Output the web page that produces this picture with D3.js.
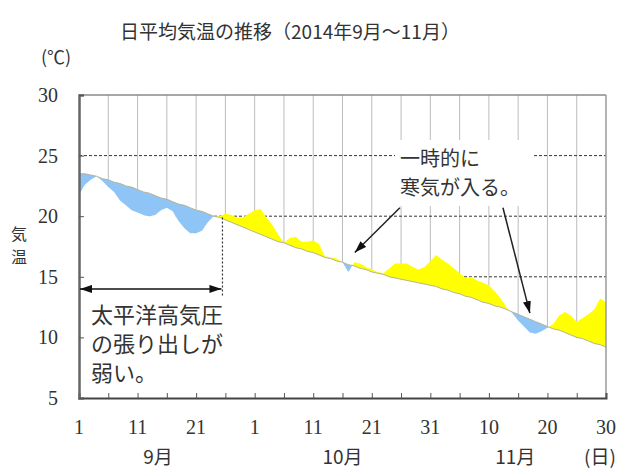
<!DOCTYPE html>
<html>
<head>
<meta charset="utf-8">
<script src="https://cdn.jsdelivr.net/npm/d3@7/dist/d3.min.js"></script>
<style>
  body { margin: 0; background: #fff; }
  text { font-family: "Noto Sans CJK JP", "Noto Sans", sans-serif; fill: #333; }
  .num { font-family: "Liberation Serif", "DejaVu Serif", serif; fill: #333; }
</style>
</head>
<body>
<div id="chart"></div>
<script>
// daily mean temperature, Sep 1 .. Nov 30 2014 (index 0 = Sep 1)
const actual = [
  21.8, 22.6, 23.0, 23.3, 22.9, 22.4, 22.0, 21.3, 20.9, 20.5,
  20.3, 20.1, 20.0, 20.1, 20.5, 20.7, 20.4, 19.6, 19.0, 18.6,
  18.6, 18.8, 19.5, 20.0, 20.0, 20.2, 20.1, 19.9, 19.9, 20.2,
  20.5, 20.6, 19.9, 19.3, 18.5, 17.8, 18.2, 18.3, 17.9, 17.9,
  18.0, 17.7, 16.7, 16.6, 16.5, 16.2, 15.4, 16.2, 16.1, 15.8,
  15.6, 15.4, 15.3, 15.7, 16.1, 16.1, 16.1, 15.8, 15.6, 15.8,
  16.3, 16.8, 16.4, 16.1, 15.7, 15.3, 14.9, 15.0, 14.7, 14.5,
  14.3, 13.8, 13.2, 12.5, 12.0, 11.4, 10.9, 10.4, 10.3, 10.5,
  10.8, 11.1, 11.8, 12.1, 11.8, 11.3, 11.6, 11.9, 12.3, 13.2, 12.9
]
// climatological normal
const normal = [
  23.5, 23.5, 23.4, 23.3, 23.1, 23.0, 22.8, 22.7, 22.5, 22.4,
  22.2, 22.0, 21.9, 21.7, 21.5, 21.4, 21.2, 21.0, 20.9, 20.7,
  20.5, 20.4, 20.2, 20.0, 19.9, 19.7, 19.5, 19.3, 19.1, 18.9,
  18.7, 18.5, 18.3, 18.1, 17.9, 17.8, 17.6, 17.4, 17.3, 17.1,
  17.0, 16.8, 16.6, 16.5, 16.3, 16.2, 16.0, 15.9, 15.7, 15.6,
  15.4, 15.3, 15.2, 15.0, 14.9, 14.8, 14.7, 14.6, 14.5, 14.4,
  14.3, 14.2, 14.0, 13.9, 13.7, 13.6, 13.4, 13.3, 13.1, 12.9,
  12.8, 12.6, 12.5, 12.3, 12.1, 11.9, 11.7, 11.5, 11.3, 11.1,
  10.9, 10.7, 10.6, 10.4, 10.2, 10.0, 9.9, 9.7, 9.5, 9.4, 9.2
]
const xTickDays = [0, 10, 20, 30, 40, 50, 60, 70, 80, 90]
const xTickLabels = ['1', '11', '21', '1', '11', '21', '31', '10', '20', '30']
const months = ['9月', '10月', '11月']
const monthCenters = [13.5, 45, 74.5]
const yTicks = [5, 10, 15, 20, 25, 30]
const yGridLines = [10, 15, 20, 25]

const width = 622
const height = 471
const margin = {left: 79, right: 16, top: 95, bottom: 73}

const svg = d3.select('#chart').append('svg')
  .attr('width', width)
  .attr('height', height)

const x = d3.scaleLinear().domain([0, 90]).range([margin.left, width - margin.right])
const y = d3.scaleLinear().domain([5, 30]).range([height - margin.bottom, margin.top])

// series joined, with the crossing points added so the two colours split cleanly
const data = actual.map((a, i) => ({i: i, a: a, n: normal[i]}))
const pts = []
data.forEach((d, k) => {
  pts.push(d)
  const e = data[k + 1]
  if (!e) return
  const d0 = d.a - d.n
  const d1 = e.a - e.n
  if (d0 * d1 < 0) {
    const t = d0 / (d0 - d1)
    const v = d.n + t * (e.n - d.n)
    pts.push({i: d.i + t, a: v, n: v})
  }
})

// vertical grid every 5 days
svg.append('g').selectAll('line')
  .data(d3.range(5, 90, 5))
  .join('line')
  .attr('x1', d => x(d)).attr('x2', d => x(d))
  .attr('y1', y(30)).attr('y2', y(5))
  .attr('stroke', '#bdbdbd').attr('stroke-width', 1)

svg.append('g').selectAll('line')
  .data(yGridLines)
  .join('line')
  .attr('x1', x(0)).attr('x2', x(90))
  .attr('y1', d => y(d)).attr('y2', d => y(d))
  .attr('stroke', '#333').attr('stroke-width', 1)
  .attr('stroke-dasharray', '3,2')

// white under the curves hides the grid
svg.append('path')
  .datum(pts)
  .attr('fill', '#fff')
  .attr('d', d3.area().x(d => x(d.i)).y0(y(5)).y1(d => y(Math.min(d.a, d.n))))

svg.append('path')
  .datum(pts)
  .attr('fill', '#ffff00')
  .attr('d', d3.area().x(d => x(d.i)).y0(d => y(d.n)).y1(d => y(Math.max(d.a, d.n))))

svg.append('path')
  .datum(pts)
  .attr('fill', '#8ec4f6')
  .attr('d', d3.area().x(d => x(d.i)).y0(d => y(d.n)).y1(d => y(Math.min(d.a, d.n))))

svg.append('path')
  .datum(data)
  .attr('fill', 'none')
  .attr('stroke', '#b4b49a')
  .attr('stroke-width', 1)
  .attr('d', d3.line().x(d => x(d.i)).y(d => y(d.n)))

// frame
svg.append('line').attr('x1', x(0)).attr('x2', x(90)).attr('y1', y(30)).attr('y2', y(30))
  .attr('stroke', '#8a8a8a').attr('stroke-width', 1.5)
svg.append('line').attr('x1', x(90)).attr('x2', x(90)).attr('y1', y(30)).attr('y2', y(5))
  .attr('stroke', '#9a9a9a').attr('stroke-width', 1.5)

const xAxis = d3.axisBottom(x).tickValues(d3.range(0, 91, 5)).tickSize(-5).tickFormat('')
svg.append('g')
  .attr('transform', 'translate(0,' + y(5) + ')')
  .call(xAxis)
  .call(g => g.select('.domain').attr('stroke', '#444').attr('stroke-width', 2))
  .call(g => g.selectAll('.tick line').attr('stroke', '#555'))

const yAxis = d3.axisLeft(y).tickValues(yTicks).tickSize(-5).tickFormat('')
svg.append('g')
  .attr('transform', 'translate(' + x(0) + ',0)')
  .call(yAxis)
  .call(g => g.select('.domain').attr('stroke', '#666').attr('stroke-width', 2.5))
  .call(g => g.selectAll('.tick line').attr('stroke', '#555'))

svg.append('g').selectAll('text')
  .data(yTicks)
  .join('text')
  .attr('class', 'num')
  .attr('x', 58)
  .attr('y', d => y(d))
  .attr('dy', '0.35em')
  .attr('text-anchor', 'end')
  .style('font-size', '20px')
  .text(d => d)

svg.append('g').selectAll('text')
  .data(xTickDays)
  .join('text')
  .attr('class', 'num')
  .attr('x', d => x(d))
  .attr('y', 427)
  .attr('dy', '0.35em')
  .attr('text-anchor', 'middle')
  .style('font-size', '20px')
  .text((d, k) => xTickLabels[k])

svg.append('g').selectAll('text')
  .data(months)
  .join('text')
  .attr('x', (d, k) => x(monthCenters[k]))
  .attr('y', 457)
  .attr('dy', '0.35em')
  .attr('text-anchor', 'middle')
  .style('font-size', '19px')
  .text(d => d)

svg.append('text').attr('x', 600).attr('y', 457).attr('dy', '0.35em')
  .attr('text-anchor', 'middle').style('font-size', '19px').text('(日)')

svg.append('text').attr('x', 290).attr('y', 32).attr('dy', '0.35em')
  .attr('text-anchor', 'middle').style('font-size', '19px')
  .text('日平均気温の推移（2014年9月～11月）')

svg.append('text').attr('x', 56).attr('y', 58).attr('dy', '0.35em')
  .attr('text-anchor', 'middle').style('font-size', '18px').text('(℃)')

svg.append('text').attr('x', 19).attr('y', 234).attr('dy', '0.35em')
  .attr('text-anchor', 'middle').style('font-size', '16px').text('気')
svg.append('text').attr('x', 19).attr('y', 257).attr('dy', '0.35em')
  .attr('text-anchor', 'middle').style('font-size', '16px').text('温')

// annotations
const defs = svg.append('defs')
defs.append('marker')
  .attr('id', 'head')
  .attr('viewBox', '0 0 12 8')
  .attr('refX', 12).attr('refY', 4)
  .attr('markerWidth', 12).attr('markerHeight', 8)
  .attr('markerUnits', 'userSpaceOnUse')
  .attr('orient', 'auto-start-reverse')
  .append('path').attr('d', 'M0,0 L12,4 L0,8 Z').attr('fill', '#111')

svg.append('line')
  .attr('x1', x(24.5)).attr('x2', x(24.5))
  .attr('y1', y(19.9)).attr('y2', y(13.4))
  .attr('stroke', '#333').attr('stroke-width', 1.2).attr('stroke-dasharray', '2,2')

svg.append('line')
  .attr('x1', x(0) + 1).attr('x2', x(24.5) - 1)
  .attr('y1', y(14)).attr('y2', y(14))
  .attr('stroke', '#111').attr('stroke-width', 1.5)
  .attr('marker-start', 'url(#head)').attr('marker-end', 'url(#head)')

const leftNote = ['太平洋高気圧', 'の張り出しが', '弱い。']
svg.append('g').selectAll('text')
  .data(leftNote)
  .join('text')
  .attr('x', 91)
  .attr('y', (d, k) => 315 + k * 29)
  .attr('dy', '0.35em')
  .style('font-size', '22px')
  .text(d => d)

svg.append('rect')
  .attr('x', 395).attr('y', 140).attr('width', 137).attr('height', 66)
  .attr('fill', '#fff')

const rightNote = ['一時的に', '寒気が入る。']
svg.append('g').selectAll('text')
  .data(rightNote)
  .join('text')
  .attr('x', 400)
  .attr('y', (d, k) => 159 + k * 29)
  .attr('dy', '0.35em')
  .style('font-size', '20px')
  .text(d => d)

const arrows = [
  {from: [54.8, 20.7], to: [47.1, 17.0]},
  {from: [72.4, 20.7], to: [77.0, 12.0]}
]
svg.append('g').selectAll('line')
  .data(arrows)
  .join('line')
  .attr('x1', d => x(d.from[0])).attr('y1', d => y(d.from[1]))
  .attr('x2', d => x(d.to[0])).attr('y2', d => y(d.to[1]))
  .attr('stroke', '#222').attr('stroke-width', 1.5)
  .attr('marker-end', 'url(#head)')
</script>
</body>
</html>
